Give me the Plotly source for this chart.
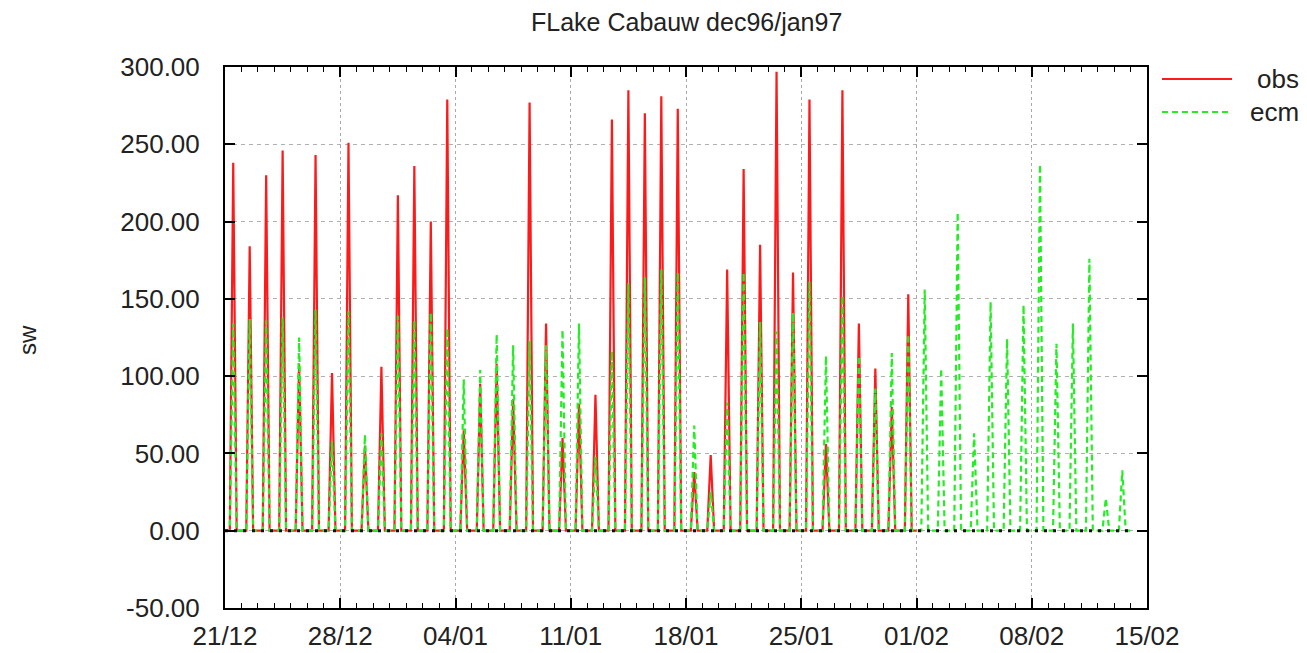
import plotly.graph_objects as go
import pandas as pd

# ---------------- data ----------------
start_date = "1996-12-21"
x_tick_labels = ["21/12", "28/12", "04/01", "11/01", "18/01", "25/01", "01/02", "08/02", "15/02"]
y_ticks = [-50, 0, 50, 100, 150, 200, 250, 300]

# daily maximum of observed shortwave radiation (21/12 .. 31/01)
obs_peak = [238, 184, 230, 246, 108, 243, 102, 251, 55, 106,
            217, 236, 200, 279, 65, 95, 108, 85, 277, 134,
            60, 82, 88, 266, 285, 270, 281, 273, 38, 49,
            169, 234, 185, 297, 167, 279, 56, 285, 134, 105,
            80, 153]
# daily maximum of ecm model shortwave radiation (21/12 .. 13/02)
ecm_peak = [134, 137, 136, 138, 125, 143, 58, 142, 62, 63,
            139, 136, 141, 131, 98, 104, 127, 120, 123, 120,
            130, 134, 48, 116, 160, 164, 169, 167, 68, 25,
            83, 167, 135, 129, 141, 161, 113, 152, 113, 92,
            115, 127, 156, 105, 206, 63, 148, 124, 146, 237,
            121, 134, 176, 21, 39]
# hours of day: sunrise, noon, sunset
day_hours = [7.0, 12.0, 17.0]

# ---------------- build series ----------------
t0 = pd.Timestamp(start_date)


def daily_series(peaks):
    xs, ys = [t0], [0.0]
    for k, p in enumerate(peaks):
        day = t0 + pd.Timedelta(days=k)
        vals = [0.0, p, 0.0]
        for h, v in zip(day_hours, vals):
            xs.append(day + pd.Timedelta(hours=h))
            ys.append(v)
    xs.append(t0 + pd.Timedelta(days=len(peaks)))
    ys.append(0.0)
    return xs, ys


ox, oy = daily_series(obs_peak)
ex, ey = daily_series(ecm_peak)

FONT = "Liberation Sans, Arial, sans-serif"
RED = "#ff1a1a"
GREEN = "#22ee22"

fig = go.Figure()
fig.add_trace(go.Scatter(x=ox, y=oy, mode="lines", name="obs",
                         line=dict(color=RED, width=2.2),
                         showlegend=False))
fig.add_trace(go.Scatter(x=ex, y=ey, mode="lines", name="ecm",
                         line=dict(color=GREEN, width=2.2, dash="6px,4px"),
                         showlegend=False))
# black dotted zero line
fig.add_trace(go.Scatter(x=[t0, t0 + pd.Timedelta(days=len(ecm_peak))], y=[0, 0],
                         mode="lines", line=dict(color="#111111", width=3, dash="3px,6px"),
                         showlegend=False, hoverinfo="skip"))

tickvals = [t0 + pd.Timedelta(days=7 * i) for i in range(len(x_tick_labels))]

fig.update_xaxes(
    type="date",
    range=[t0, t0 + pd.Timedelta(days=56)],
    tickmode="array", tickvals=tickvals, ticktext=x_tick_labels,
    ticks="inside", ticklen=10, tickwidth=1.5, tickcolor="black",
    showline=True, linecolor="black", linewidth=2, mirror="allticks",
    showgrid=True, gridcolor="#aaaaaa", griddash="dot", gridwidth=1,
    zeroline=False, automargin=False,
    minor=dict(dtick=86400000.0, tick0=t0, ticks="inside", ticklen=5,
               tickwidth=1.2, tickcolor="black", showgrid=False),
    tickfont=dict(family=FONT, size=26, color="#222222"),
    ticklabelstandoff=4,
)
fig.update_yaxes(
    range=[-50, 300],
    tickmode="array", tickvals=y_ticks, ticktext=[f"{v:.2f}" for v in y_ticks],
    ticks="inside", ticklen=10, tickwidth=1.5, tickcolor="black",
    showline=True, linecolor="black", linewidth=2, mirror="allticks",
    showgrid=True, gridcolor="#b0b0b0", griddash="4px,4px", gridwidth=1,
    zeroline=False, automargin=False,
    tickfont=dict(family=FONT, size=26, color="#222222"),
    ticklabelstandoff=18,
)

W, H = 1307, 653
L, R, T, B = 225, 160, 67, 45
pw, ph = W - L - R, H - T - B


def px(x):
    return (x - L) / pw


def py(y):
    return 1 - (y - T) / ph


shapes = [
    dict(type="line", xref="paper", yref="paper", x0=px(1162), x1=px(1232),
         y0=py(79), y1=py(79), line=dict(color=RED, width=1.8)),
    dict(type="line", xref="paper", yref="paper", x0=px(1162), x1=px(1232),
         y0=py(112), y1=py(112), line=dict(color=GREEN, width=1.8, dash="6px,4px")),
]
annotations = [
    dict(text="obs", xref="paper", yref="paper", x=px(1301), y=py(79),
         xanchor="right", yanchor="middle", showarrow=False,
         font=dict(family=FONT, size=26, color="#222222")),
    dict(text="ecm", xref="paper", yref="paper", x=px(1301), y=py(112),
         xanchor="right", yanchor="middle", showarrow=False,
         font=dict(family=FONT, size=26, color="#222222")),
    dict(text="sw", xref="paper", yref="paper", x=px(27), y=py(340),
         xanchor="center", yanchor="middle", showarrow=False, textangle=-90,
         font=dict(family=FONT, size=24, color="#222222")),
    dict(text="FLake Cabauw dec96/jan97", xref="paper", yref="paper",
         x=px(686), y=py(22), xanchor="center", yanchor="middle", showarrow=False,
         font=dict(family=FONT, size=25, color="#222222")),
]

fig.update_layout(
    width=W, height=H,
    margin=dict(l=L, r=R, t=T, b=B),
    paper_bgcolor="white", plot_bgcolor="white",
    shapes=shapes, annotations=annotations,
    showlegend=False,
)

fig.write_html("out.html")
